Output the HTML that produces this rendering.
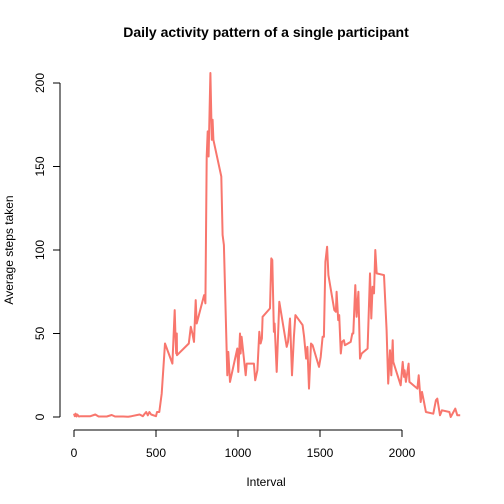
<!DOCTYPE html>
<html><head><meta charset="utf-8"><style>
body{margin:0;background:#fff;}
svg{display:block;font-family:"Liberation Sans",Arial,sans-serif;}
</style></head><body>
<svg id="chart" width="504" height="504">
<text x="266" y="37" text-anchor="middle" font-size="14" font-weight="bold">Daily activity pattern of a single participant</text>
<text x="266" y="486" text-anchor="middle" font-size="12">Interval</text>
<text transform="translate(13,250) rotate(-90)" text-anchor="middle" font-size="12">Average steps taken</text>
<g id="axes"></g>
<g id="series"></g>
</svg>
<script>
const intervals=[0,5,10,15,20,30,40,60,100,130,150,200,230,250,300,330,350,400,420,430,440,450,460,470,500,506,520,535,555,600,614,618,623,627,628,700,712,722,732,742,748,793,801,809,815,821,832,840,845,850,898,906,914,935,941,951,996,1002,1012,1016,1022,1047,1053,1097,1105,1118,1130,1138,1146,1150,1195,1203,1209,1219,1223,1236,1252,1297,1305,1317,1329,1341,1350,1394,1403,1415,1423,1433,1445,1455,1494,1504,1516,1524,1533,1543,1551,1587,1597,1601,1611,1617,1627,1634,1646,1652,1687,1697,1703,1715,1723,1734,1744,1754,1790,1805,1813,1821,1829,1837,1846,1890,1906,1916,1927,1935,1943,1947,1992,2004,2012,2016,2024,2040,2045,2094,2102,2114,2122,2134,2146,2191,2207,2215,2232,2244,2289,2297,2325,2337,2345,2355];
const steps=[2,0.5,2,0.3,1.5,0.3,0.5,0.5,0.5,1.5,0.3,0.3,1.2,0.3,0.3,0.2,0.5,1.5,0.5,1.8,3,1,3,1.5,0.5,3,3,14,44,32,64,50,38,50,37,44,54,50,45,70,56,73,68,156,171,156,206,166,178,166,144,109,103,25,39,21,41,27,50,38,48,25,32,32,22,28,51,44,47,60,65,95,94,51,56,27,69,42,45,59,25,48,61,55,48,35,42,17,44,43,30,36,48,48,93,102,85,64,63,75,58,61,38,45,46,43,45,50,50,79,60,75,35,38,41,86,59,78,74,100,86,85,52,20,40,25,46,33,19,33,24,28,21,32,21,17,25,9,15,9,3,2,10,11,1,4,3,0,5,1,1,1];
const xTicks=[0,500,1000,1500,2000];
const yTicks=[0,50,100,150,200];
const xs=v=>74+v*0.164;
const ys=v=>417-v*1.67;
const NS="http://www.w3.org/2000/svg";
const axes=document.getElementById('axes');
function mk(tag,attrs,parent){const e=document.createElementNS(NS,tag);for(const k in attrs)e.setAttribute(k,attrs[k]);parent.appendChild(e);return e;}
let xl=mk('line',{x1:xs(0),x2:xs(2000),y1:430,y2:430,stroke:'#000'},axes);


xTicks.forEach(t=>{
 mk('line',{x1:xs(t),x2:xs(t),y1:430,y2:437,stroke:'#000'},axes);
 const tx=mk('text',{x:xs(t),y:457,'text-anchor':'middle','font-size':12},axes);
 tx.textContent=t;
 
 
});
let yl=mk('line',{x1:60,x2:60,y1:ys(0),y2:ys(200),stroke:'#000'},axes);


yTicks.forEach(t=>{
 mk('line',{x1:53,x2:60,y1:ys(t),y2:ys(t),stroke:'#000'},axes);
 const tx=mk('text',{transform:`translate(44,${ys(t)}) rotate(-90)`,'text-anchor':'middle','font-size':12},axes);
 tx.textContent=t;
 
 
});
const pts=intervals.map((v,i)=>xs(v).toFixed(1)+','+ys(steps[i]).toFixed(1)).join(' ');
const pl=mk('polyline',{points:pts,fill:'none',stroke:'#f8766d','stroke-width':2,'stroke-linejoin':'round'},document.getElementById('series'));


</script>
</body></html>
